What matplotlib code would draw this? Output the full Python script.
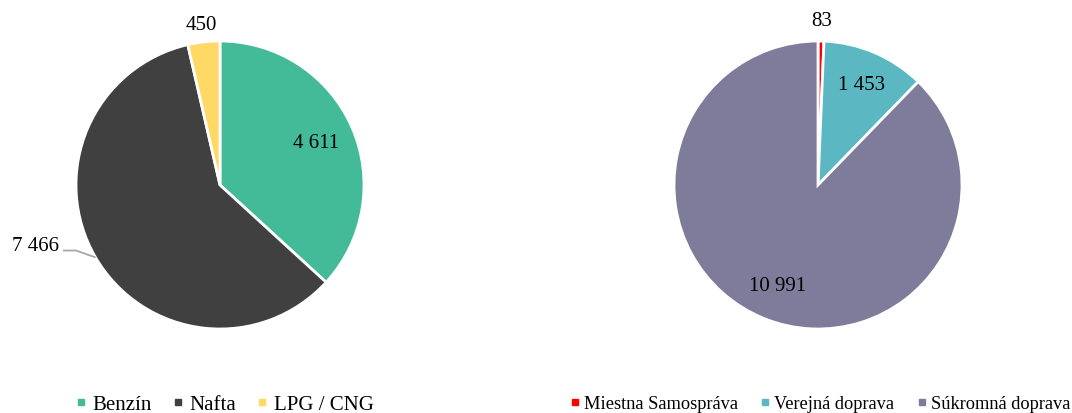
import matplotlib
matplotlib.use("Agg")
import matplotlib.pyplot as plt
from matplotlib.lines import Line2D
import numpy as np

plt.rcParams['font.family'] = ['Liberation Serif', 'DejaVu Serif']

fuel_labels = ["Benzín", "Nafta", "LPG / CNG"]
fuel_values = [4611, 7466, 450]
fuel_text = ["4 611", "7 466", "450"]
fuel_colors = ["#43BA98", "#404040", "#FFD966"]

sector_labels = ["Miestna Samospráva", "Verejná doprava", "Súkromná doprava"]
sector_values = [83, 1453, 10991]
sector_text = ["83", "1 453", "10 991"]
sector_colors = ["#FF0000", "#5BB8C2", "#7F7B9A"]

W, H = 1072, 414
fig = plt.figure(figsize=(W / 100, H / 100), dpi=100)

R = 144

def pie_axes(cx, cy):
    ax = fig.add_axes([(cx - R) / W, (H - cy - R) / H, 2 * R / W, 2 * R / H])
    return ax

def draw(ax, values, colors):
    wedges, _ = ax.pie(values, colors=colors, startangle=90, counterclock=False,
                       radius=1.0, wedgeprops=dict(edgecolor="white", linewidth=2))
    ax.set_xlim(-1, 1)
    ax.set_ylim(-1, 1)
    ax.set_aspect("equal")
    return wedges

def mid(w):
    a = np.deg2rad((w.theta1 + w.theta2) / 2)
    return np.cos(a), np.sin(a)

fs = 15

ax1 = pie_axes(220, 186)
w1 = draw(ax1, fuel_values, fuel_colors)
x, y = mid(w1[0])
ax1.text(0.73 * x, 0.73 * y, fuel_text[0], ha="center", va="center", fontsize=fs)
x, y = mid(w1[1])
ax1.plot([-1.09, -1.0, x], [-0.455, -0.455, y], color="#A6A6A6", lw=1.3,
         clip_on=False, solid_capstyle="butt")
ax1.text(-1.12, -0.42, fuel_text[1], ha="right", va="center", fontsize=fs)
x, y = mid(w1[2])
ax1.text(1.13 * x, 1.12 * y, fuel_text[2], ha="center", va="center", fontsize=fs)

ax2 = pie_axes(818, 186)
w2 = draw(ax2, sector_values, sector_colors)
x, y = mid(w2[0])
ax2.text(1.13 * x, 1.14 * y, sector_text[0], ha="center", va="center", fontsize=fs)
x, y = mid(w2[1])
ax2.text(0.76 * x, 0.76 * y, sector_text[1], ha="center", va="center", fontsize=fs)
x, y = mid(w2[2])
ax2.text(0.75 * x, 0.75 * y, sector_text[2], ha="center", va="center", fontsize=fs)

def legend(labels, colors, left, size, colsp, pad):
    handles = [Line2D([], [], marker="s", linestyle="none", markersize=5,
                      markerfacecolor=c, markeredgecolor=c) for c in colors]
    fig.legend(handles, labels, loc="center left", bbox_to_anchor=(left / W, (H - 405) / H),
               ncol=len(labels), frameon=False, fontsize=size, handlelength=0.5,
               handletextpad=pad, columnspacing=colsp, borderaxespad=0, borderpad=0)

legend(fuel_labels, fuel_colors, 76, fs, 1.0, 0.3)
legend(sector_labels, sector_colors, 570, 13.2, 1.25, 0.25)

fig.savefig("out.png", dpi=100)
